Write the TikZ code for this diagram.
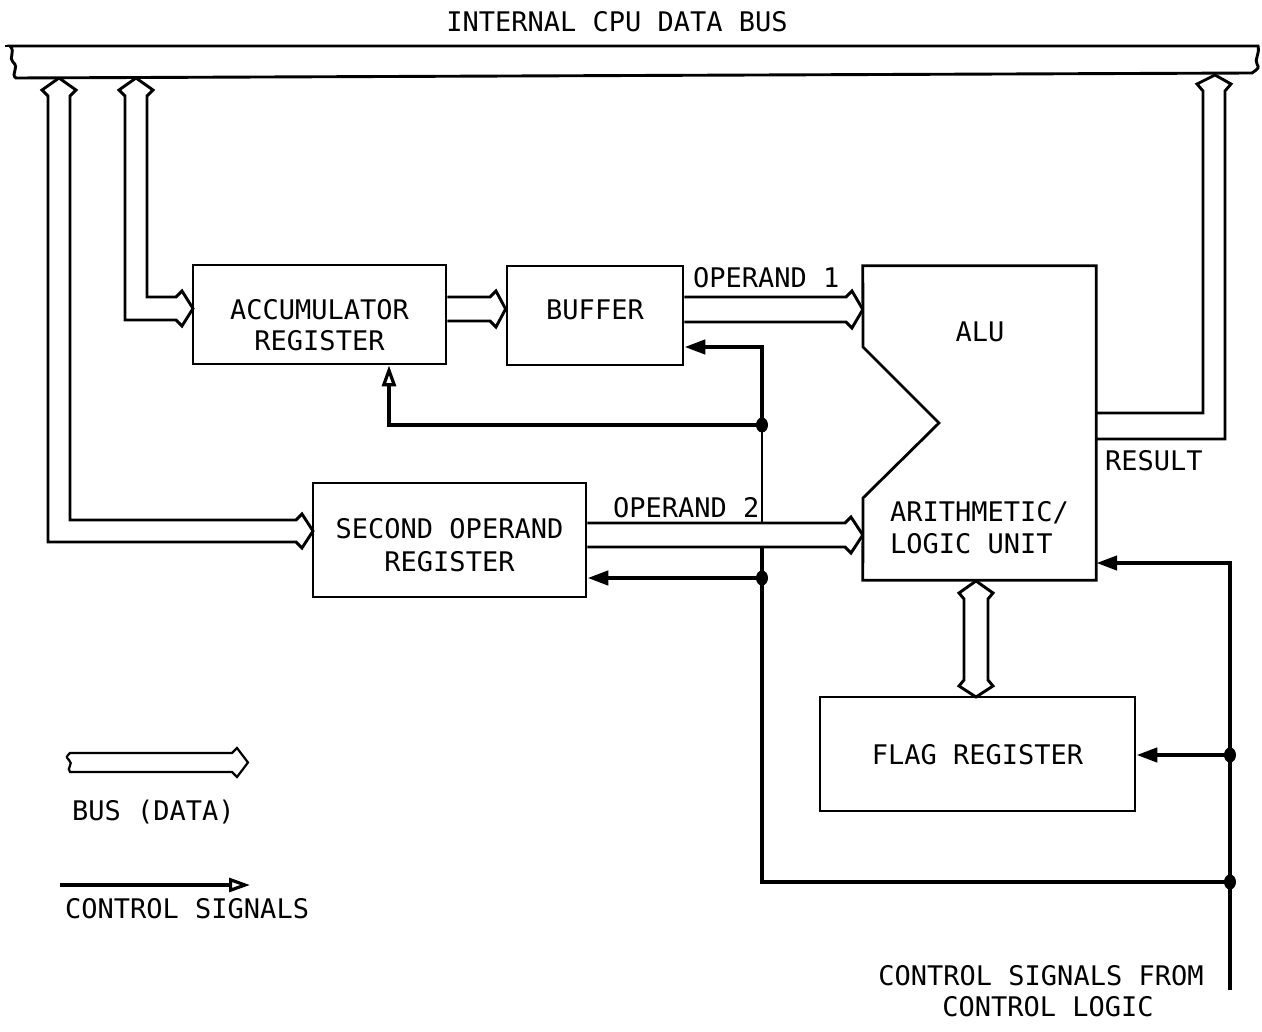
\documentclass[tikz,border=0pt]{standalone}
\usepackage{fontspec}
\newfontfamily\lbl{DejaVu Sans Mono}
\usetikzlibrary{arrows.meta,shapes.geometric}
\begin{document}
\begin{tikzpicture}[x=1pt,y=-1pt,
  box/.style={draw, line width=2.8pt, fill=white, inner sep=0pt},
  txt/.style={font=\lbl\fontsize{27}{31}\selectfont, inner sep=0pt, anchor=base},
  txtw/.style={txt, anchor=base west},
  ctl/.style={line width=4.4pt},
  ctlarrow/.style={ctl, -{Triangle[length=21pt, width=14pt]}},
  ctlopen/.style={ctl, -{Triangle[open, length=21pt, width=14pt, line width=3.2pt]}},
  bus/.style={draw, line width=2.9pt, fill=white, line join=miter},
  blob/.style={ellipse, fill=black, inner sep=0pt, minimum width=12pt, minimum height=15pt}
]
\useasboundingbox (0,0) rectangle (1262,1032);

% ---------- coordinates for control junctions ----------
\coordinate (j1) at (762,425);
\coordinate (j2) at (762,578);
\coordinate (j3) at (1230,755);
\coordinate (j4) at (1230,882);
\coordinate (cin) at (1230,990);
\coordinate (k1) at (762,347);
\coordinate (k2) at (389,425);
\coordinate (k3) at (762,882);
\coordinate (k4) at (1230,563);
\coordinate (k5) at (762,547);

% ---------- invisible node for the ALU outline ----------
\node[inner sep=0pt, minimum width=233pt, minimum height=314pt] (alu) at (979.5,423) {};

% ---------- boxes (named) ----------
\node[box, minimum width=253pt, minimum height=99pt] (acc) at (319.5,314.5) {};
\node[box, minimum width=176pt, minimum height=99pt] (buf) at (595,315.5) {};
\node[box, minimum width=273pt, minimum height=114pt] (sop) at (449.5,540) {};
\node[box, minimum width=315pt, minimum height=114pt] (flag) at (977.5,754) {};

% ---------- control signal lines ----------
\draw[ctlarrow] (cin) -- (k4) -- (alu.east |- k4);
\draw[ctlarrow] (j3) -- (flag.east |- j3);
\draw[ctl] (j4) -- (k3) -- (j2) -- (k5);
\draw[line width=1.8pt] (k5) -- (j1);
\draw[ctlarrow] (j1) -- (k1) -- (buf.east |- k1);
\draw[ctlopen] (j1) -- (k2) -- (acc.south -| k2);
\draw[ctlarrow] (j2) -- (sop.east |- j2);

% ---------- data bus arrows ----------
% bus -> second operand register
\path[bus] (48,96) -- (48,542) -- (296,542) -- (302,548) -- (313,531) -- (302,514) -- (296,520)
  -- (70,520) -- (70,96) -- (76,90) -- (59,78) -- (42,90) -- cycle;
% bus -> accumulator
\path[bus] (125,96) -- (125,320) -- (176,320) -- (182,326) -- (193,308.5) -- (182,291) -- (176,297)
  -- (147,297) -- (147,96) -- (153,90) -- (136,78) -- (119,90) -- cycle;
% accumulator -> buffer
\path[bus] (acc.east |- 0,297) -- (490,297) -- (496,291) -- (buf.west |- 0,309) -- (496,327) -- (490,321) -- (acc.east |- 0,321);
% buffer -> ALU (operand 1)
\path[bus] (buf.east |- 0,297) -- (846,297) -- (852,291) -- (alu.west |- 0,309.5) -- (852,328) -- (846,322) -- (buf.east |- 0,322);
% second operand -> ALU (operand 2)
\path[bus] (sop.east |- 0,523) -- (845,523) -- (851,517) -- (alu.west |- 0,535) -- (851,553) -- (845,547) -- (sop.east |- 0,547);
% ALU result -> bus
\path[bus] (alu.east |- 0,413) -- (1203,413) -- (1203,91) -- (1197,84) -- (1215,75) -- (1231,84)
  -- (1225,91) -- (1225,439) -- (alu.east |- 0,439);
% ALU <-> flag register
\path[bus] (976,581) -- (993,593) -- (988,599) -- (988,680) -- (993,686) -- (976,697)
  -- (959,686) -- (964,680) -- (964,599) -- (959,593) -- cycle;

% ---------- internal CPU data bus ----------
\path[bus] (10,46) -- (1258,46)
  .. controls (1260,54) and (1254,60) .. (1257,64)
  .. controls (1259,68) .. (1252,73)
  -- (16,78)
  .. controls (10,74) and (20,68) .. (13,62)
  .. controls (8,58) and (16,52) .. (10,46) -- cycle;
\draw[line width=2.6pt] (5,46) -- (12,46);

% ---------- ALU outline ----------
\draw[line width=2.8pt, fill=white, line join=miter]
  (alu.north west) -- (alu.north east) -- (alu.south east) -- (alu.south west)
  -- (863,498) -- (939,423) -- (863,347) -- cycle;

% ---------- junction blobs ----------
\node[blob] at (j1) {};
\node[blob] at (j2) {};
\node[blob] at (j3) {};
\node[blob] at (j4) {};

% ---------- texts ----------
\node[txt] (title) at (617,32) {INTERNAL CPU DATA BUS};
\node[txt] (tacc1) at (acc |- 0,320) {ACCUMULATOR};
\node[txt] (tacc2) at (acc |- 0,351) {REGISTER};
\node[txt] (tbuf) at (buf |- 0,320) {BUFFER};
\node[txt] (talu) at (980,342) {ALU};
\node[txtw] (tar1) at (890,521) {ARITHMETIC/};
\node[txtw] (tar2) at (890,553) {LOGIC UNIT};
\node[txt] (tsop1) at (sop |- 0,538) {SECOND OPERAND};
\node[txt] (tsop2) at (sop |- 0,571) {REGISTER};
\node[txtw] (top1) at (693,288) {OPERAND 1};
\node[txtw] (top2) at (613,517) {OPERAND 2};
\node[txtw] (tres) at (1105,471) {RESULT};
\node[txt] (tflag) at (flag |- 0,764) {FLAG REGISTER};
\node[txt] (tcs1) at (1041,985) {CONTROL SIGNALS FROM};
\node[txt] (tcs2) at (1048,1016) {CONTROL LOGIC};

% ---------- legend ----------
\coordinate (lb1) at (70,753);
\coordinate (lc1) at (60,885);
\coordinate (lc2) at (250,885);
\path[bus, line width=2.2pt] (lb1) -- (232,753) -- (237,748) -- (248,762.5) -- (237,777) -- (232,772) -- (70,772)
  .. controls (66,768) and (74,764) .. (69,760) .. controls (66,757) .. (lb1) -- cycle;
\node[txtw] (tbus) at (72,820) {BUS (DATA)};
\draw[ctlopen] (lc1) -- (lc2);
\node[txtw] (tctl) at (65,918) {CONTROL SIGNALS};
\end{tikzpicture}
\end{document}
